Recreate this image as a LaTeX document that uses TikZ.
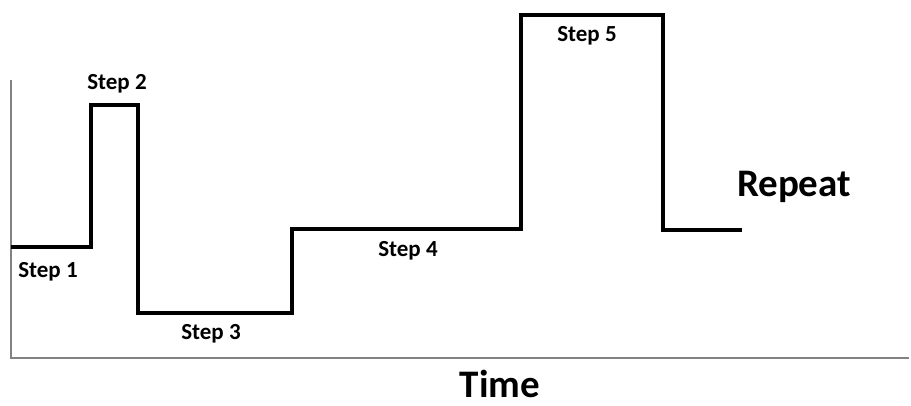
\documentclass[tikz,border=0pt]{standalone}
\usepackage{fontspec}
\setmainfont{Carlito}
\usepackage{tikz}
\usetikzlibrary{positioning}
\definecolor{axiscolor}{RGB}{130,130,130}
\definecolor{tracecolor}{RGB}{0,0,0}

\begin{document}
\begin{tikzpicture}[
  x=1pt,y=-1pt,
  every node/.style={inner sep=0pt,anchor=base},
  axis/.style={draw=axiscolor,line width=1.6pt},
  trace/.style={draw=tracecolor,line width=3.6pt,line join=miter},
  steplabel/.style={font=\fontsize{23}{26}\selectfont\bfseries},
  biglabel/.style={font=\fontsize{39}{44}\selectfont\bfseries,text depth=0pt}]
\useasboundingbox (0,0) rectangle (911,406);
%--- Axes ---
\coordinate (top)    at (11,80);
\coordinate (origin) at (11,358);
\coordinate (right)  at (909,358);
\draw[axis] (top)--(origin)--(right);
%--- Corners of the trace ---
\coordinate (s1a) at (11,247);
\coordinate (s1b) at (91,247);
\coordinate (s2a) at (91,105);
\coordinate (s2b) at (138,105);
\coordinate (s3a) at (138,313);
\coordinate (s3b) at (292,313);
\coordinate (s4a) at (292,229);
\coordinate (s4b) at (521,229);
\coordinate (s5a) at (521,15);
\coordinate (s5b) at (663,15);
\coordinate (r1)  at (663,230);
\coordinate (r2)  at (742,230);
\draw[trace] (s1a)--(s1b)--(s2a)--(s2b)--(s3a)--(s3b)--(s4a)--(s4b)--(s5a)--(s5b)--(r1)--(r2);
%--- Labels ---
\node[steplabel] (step1) at (48,278)  {Step 1};
\node[steplabel] (step2) at (117,90)  {Step 2};
\node[steplabel] (step3) at (211,340) {Step 3};
\node[steplabel] (step4) at (408,257) {Step 4};
\node[steplabel] (step5) at (587,42)  {Step 5};
\node[biglabel]  (rep)   at (794,197) {Repeat};
\node[biglabel]  (time)  at (500,397) {Time};
\end{tikzpicture}
\end{document}
